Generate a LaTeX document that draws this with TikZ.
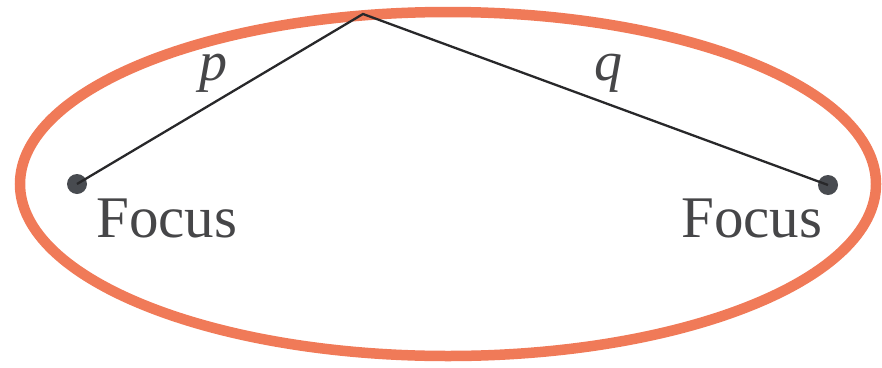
\documentclass[tikz,border=0pt]{standalone}
\usepackage{fontspec}
\setmainfont{Liberation Serif}
\definecolor{ellorange}{RGB}{240,122,88}
\definecolor{dotgray}{RGB}{72,75,80}
\definecolor{txtgray}{RGB}{70,70,72}
\definecolor{linegray}{RGB}{40,40,42}
\begin{document}
\begin{tikzpicture}[x=1pt,y=-1pt,
  focusdot/.style={circle,fill=dotgray,inner sep=0pt,minimum size=20pt},
  focuslabel/.style={anchor=base west,inner sep=0pt,text=txtgray,font=\fontsize{59}{59}\selectfont},
  seglabel/.style={inner sep=0pt,text=txtgray,font=\fontsize{56}{56}\selectfont\itshape},
  seg/.style={draw=linegray,line width=2.3pt}]
\useasboundingbox (0,0) rectangle (882,367);
\draw[ellorange,line width=10.5pt] (448,184) ellipse [x radius=428, y radius=172];
\node[focusdot] (f1) at (77,184) {};
\node[focusdot] (f2) at (828,185) {};
\coordinate (top) at (363,14);
\draw[seg] (f1.center) -- (top) -- (f2.center);
\node[focuslabel] (l1) at (96,237) {Focus};
\node[focuslabel] (l2) at (681,237) {Focus};
\node[seglabel] (p) at (213,73) {p};
\node[seglabel] (q) at (608,73) {q};
\end{tikzpicture}
\end{document}
